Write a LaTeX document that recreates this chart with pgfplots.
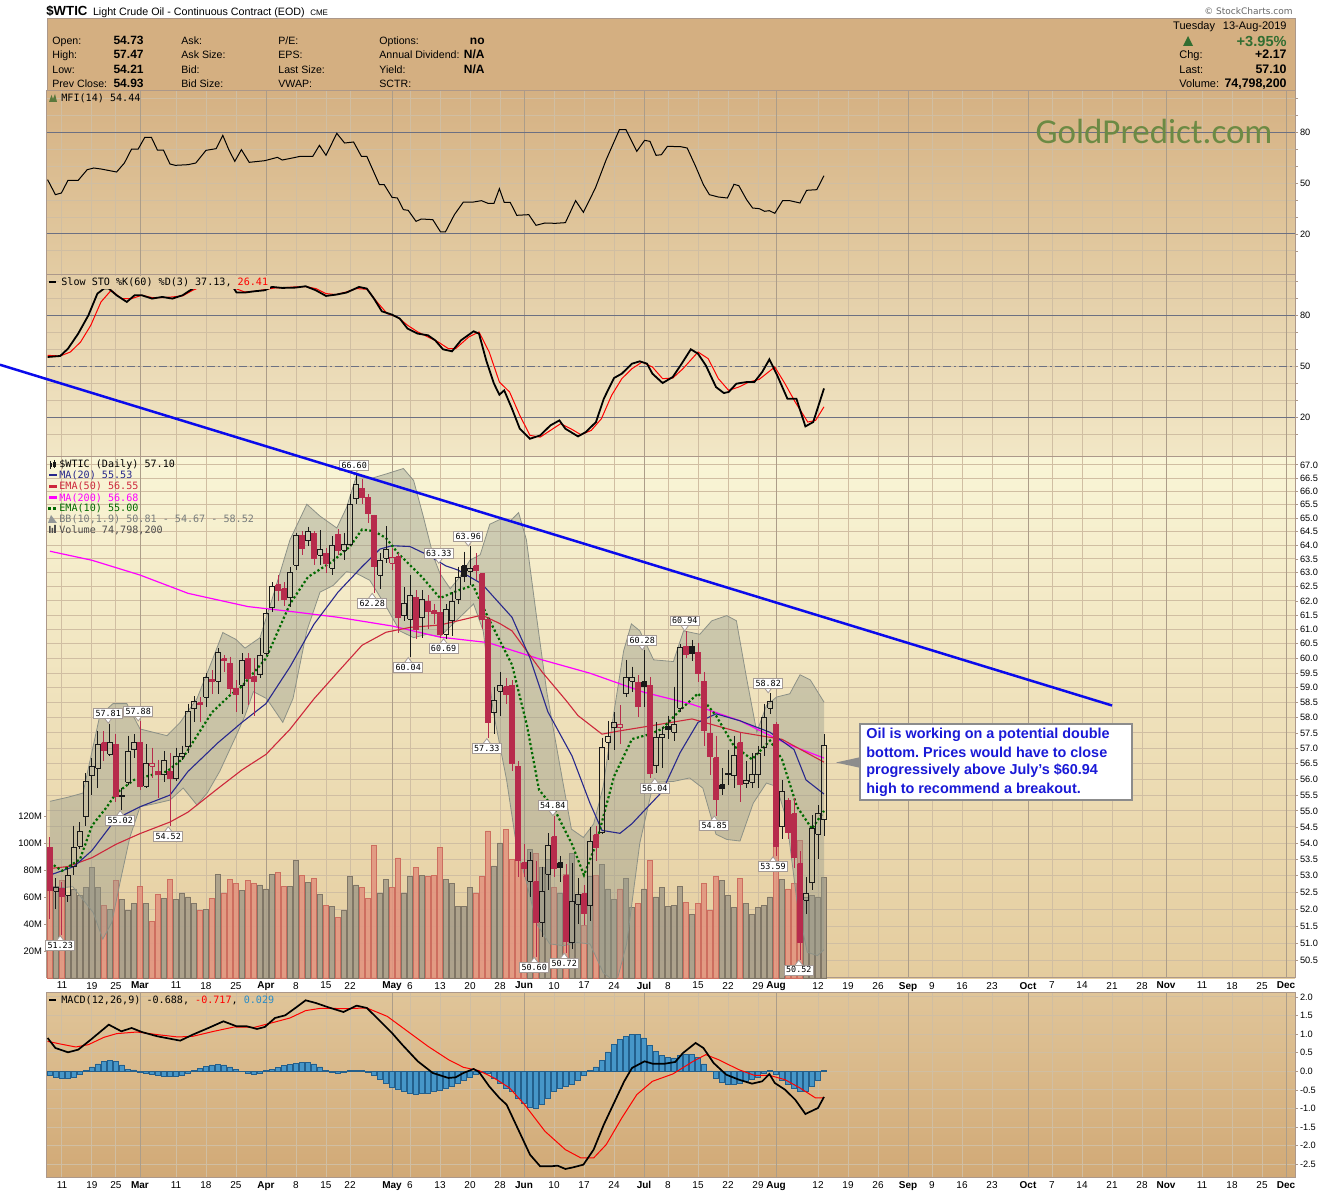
\documentclass[border=0pt]{standalone}
\usepackage{fontspec}
\setmainfont{Liberation Sans}
\newfontfamily\monof{DejaVu Sans Mono}
\newfontfamily\carl{Carlito}
\newfontfamily\dvs{DejaVu Sans}
\usepackage{pgfplots}
\usepackage{pgfplotstable}
\pgfplotsset{compat=1.18}
\newcommand\fs[1]{\fontsize{#1}{#1}\selectfont}
\frenchspacing

\definecolor{hdr}{RGB}{212,175,129}
\definecolor{mfitop}{RGB}{213,177,131}
\definecolor{mfibot}{RGB}{227,204,163}
\definecolor{stotop}{RGB}{227,205,166}
\definecolor{stobot}{RGB}{242,231,198}
\definecolor{prtop}{RGB}{249,245,214}
\definecolor{prmid}{RGB}{243,233,197}
\definecolor{prbot}{RGB}{228,204,158}
\definecolor{mctop}{RGB}{224,197,153}
\definecolor{mcbot}{RGB}{209,169,118}
\definecolor{frame}{RGB}{172,152,138}
\definecolor{gridc}{RGB}{208,190,162}
\definecolor{gridm}{RGB}{172,157,137}
\definecolor{lvl}{RGB}{108,112,130}
\definecolor{candred}{RGB}{183,43,76}
\definecolor{candblk}{RGB}{25,25,25}
\definecolor{volg}{RGB}{168,158,138}
\definecolor{volgd}{RGB}{128,118,102}
\definecolor{volr}{RGB}{226,150,128}
\definecolor{volrd}{RGB}{205,110,95}
\definecolor{bbfill}{RGB}{150,155,140}
\definecolor{bbline}{RGB}{140,145,135}
\definecolor{ma20}{RGB}{40,40,140}
\definecolor{ema50}{RGB}{205,40,60}
\definecolor{ma200}{RGB}{255,0,255}
\definecolor{ema10}{RGB}{0,105,0}
\definecolor{histb}{RGB}{70,150,200}
\definecolor{histd}{RGB}{35,95,140}
\definecolor{gp}{RGB}{108,138,68}
\definecolor{flagb}{RGB}{165,155,150}
\definecolor{trendc}{RGB}{10,10,235}
\definecolor{annob}{RGB}{25,25,215}
\definecolor{gtxt}{RGB}{50,110,50}
\definecolor{mfig}{RGB}{90,120,60}
\definecolor{bbtxt}{RGB}{120,125,125}
\definecolor{mcblue}{RGB}{40,140,200}

\tikzset{flagbox/.style={draw=flagb, fill=white, line width=0.4pt, inner sep=0.9pt, font=\monof\fs{4.2}, text=black}}
\newcommand\flagH[3]{%
  \draw[flagb, fill=white, line width=0.4pt] ([xshift=-1.8pt,yshift=2.6pt]axis cs:#1,#2) -- ([yshift=0.2pt]axis cs:#1,#2) -- ([xshift=1.8pt,yshift=2.6pt]axis cs:#1,#2);
  \node[flagbox, anchor=south] at ([yshift=2.4pt]axis cs:#1,#2) {#3};}
\newcommand\flagL[3]{%
  \draw[flagb, fill=white, line width=0.4pt] ([xshift=-1.8pt,yshift=-2.6pt]axis cs:#1,#2) -- ([yshift=-0.2pt]axis cs:#1,#2) -- ([xshift=1.8pt,yshift=-2.6pt]axis cs:#1,#2);
  \node[flagbox, anchor=north] at ([yshift=-2.4pt]axis cs:#1,#2) {#3};}

\pgfplotsset{
  panel/.style={
    scale only axis, width=624pt, xmin=-2.5, xmax=205.5, anchor=north west,
    axis line style={draw=frame, line width=0.5pt},
    xtick={0,5,9,19,24,29,39,44,48,58,63,68,73,82,87,92,101,106,111,116,126,131,136,145,150,155,165,170,175,180,190,195,200},
    xticklabels={},
    extra x ticks={13,34,55,77,97,119,141,161,184,204},
    extra x tick labels={},
    xmajorgrids=true, ymajorgrids=true,
    grid style={gridc, line width=0.5pt},
    extra x tick style={xmajorgrids=true, grid style={gridm, line width=0.5pt}, xtick style={draw=none}},
    xtick style={draw=none},
    ytick pos=right, yticklabel pos=right,
    yticklabel style={font=\fs{4.6}, inner sep=0.8pt, text=black},
    ytick style={draw=frame, line width=0.4pt},
    tick align=outside, major tick length=1.5pt,
  },
  datelabels/.style={
    xticklabels={11,19,25,11,18,25,8,15,22,6,13,20,28,10,17,24,8,15,22,29,12,19,26,9,16,23,7,14,21,28,11,18,25},
    extra x tick labels={\textbf{Mar},\textbf{Apr},\textbf{May},\textbf{Jun},\textbf{Jul},\textbf{Aug},\textbf{Sep},\textbf{Oct},\textbf{Nov},\textbf{Dec}},
    xticklabel style={font=\fs{5}, inner sep=0pt, yshift=-0.4pt, text=black},
  },
}

\pgfplotstableread{
i o h l c
-2 53.87 54.17 51.71 52.57
-1 52.54 52.92 52.01 52.66
0 52.62 52.80 51.23 52.37
1 52.42 53.28 52.22 53.02
2 53.28 54.54 53.02 53.85
3 53.90 54.65 53.80 54.36
4 54.82 56.20 54.54 55.93
5 56.11 56.68 55.50 56.41
6 56.36 57.57 55.71 57.13
7 57.18 57.57 56.58 56.91
8 56.80 57.81 56.74 57.20
9 57.13 57.46 55.29 55.45
10 55.50 55.71 55.02 55.46
11 55.90 57.41 55.83 56.88
12 56.96 57.46 56.68 57.18
13 57.20 57.88 55.66 55.76
14 55.78 57.13 55.71 56.52
15 56.41 57.02 56.04 56.50
16 56.25 56.63 55.40 56.16
17 56.14 56.91 55.90 56.61
18 56.25 56.86 54.52 56.01
19 56.01 57.02 55.93 56.72
20 56.72 57.09 56.63 56.84
21 57.05 58.47 56.85 58.21
22 58.30 58.72 57.85 58.55
23 58.50 58.69 57.85 58.43
24 58.69 59.49 58.36 59.34
25 59.29 59.60 58.80 59.22
26 59.22 60.35 58.80 60.21
27 59.99 60.12 59.54 59.92
28 59.84 60.06 58.80 58.98
29 58.98 59.26 58.19 58.77
30 59.09 60.18 58.13 59.92
31 60.01 60.18 58.41 59.32
32 59.37 60.01 58.07 59.22
33 59.45 60.71 59.32 60.10
34 60.18 61.71 60.12 61.56
35 61.75 62.66 61.60 62.51
36 62.58 62.91 62.01 62.37
37 62.43 62.66 61.83 62.03
38 62.11 63.22 61.77 63.00
39 63.28 64.46 63.10 64.36
40 64.36 64.52 63.65 63.89
41 64.17 64.68 63.98 64.52
42 64.43 64.52 63.28 63.52
43 63.64 64.55 63.28 63.86
44 63.71 63.89 62.98 63.32
45 63.16 64.32 62.92 63.98
46 64.40 64.58 63.65 63.81
47 63.81 64.46 63.47 64.02
48 64.02 65.89 63.98 65.52
49 65.71 66.60 65.52 66.24
50 66.12 66.47 65.52 65.77
51 65.77 65.89 64.83 65.18
52 65.10 65.13 62.28 63.22
53 62.92 63.71 62.43 63.43
54 63.52 64.70 63.34 63.84
55 63.34 63.89 63.10 63.55
56 63.58 63.71 60.89 61.42
57 61.48 62.49 61.30 61.89
58 61.36 62.92 60.04 62.19
59 62.13 62.37 60.65 61.00
60 61.40 62.37 60.71 62.06
61 61.98 62.19 61.00 61.63
62 61.65 61.89 61.19 61.56
63 61.59 63.33 60.69 60.83
64 60.83 61.89 60.65 61.71
65 61.30 62.31 60.77 61.98
66 62.06 63.22 61.89 62.84
67 63.25 63.77 62.66 62.86
68 63.06 63.96 62.55 63.16
69 63.25 63.71 62.73 63.08
70 62.96 62.98 61.00 61.36
71 61.36 61.42 57.33 57.85
72 58.17 59.04 57.46 58.58
73 58.89 59.54 58.07 59.09
74 59.04 59.32 58.47 58.78
75 59.09 59.26 56.25 56.52
76 56.41 56.58 52.97 53.45
77 53.40 53.96 52.97 53.23
78 52.84 53.73 52.37 53.45
79 52.82 53.45 50.60 51.61
80 51.61 53.28 51.17 52.54
81 53.04 54.30 52.57 53.93
82 54.20 54.84 52.97 53.23
83 53.40 53.60 52.82 53.25
84 53.00 53.35 50.72 51.06
85 51.02 53.40 50.83 52.22
86 52.14 52.92 51.57 52.44
87 52.46 52.72 51.52 51.86
88 52.10 54.49 51.66 54.06
89 54.25 54.54 53.45 53.87
90 54.33 57.35 54.28 57.02
91 57.20 57.90 56.63 57.40
92 57.67 58.19 56.96 57.83
93 57.67 58.41 57.13 57.77
94 58.80 59.95 58.69 59.34
95 59.22 59.72 58.87 59.36
96 59.18 59.43 58.01 58.39
97 59.21 60.28 58.36 59.04
98 59.09 59.37 56.04 56.20
99 56.43 57.85 56.20 57.34
100 57.34 57.68 56.36 57.45
101 57.72 58.07 57.29 57.61
102 57.52 59.04 57.24 57.77
103 58.32 60.48 58.19 60.38
104 60.41 60.94 60.01 60.12
105 60.41 60.64 59.90 60.15
106 60.21 60.53 59.20 59.49
107 59.22 59.54 57.07 57.57
108 57.49 58.25 56.14 56.73
109 56.69 57.41 54.85 55.36
110 55.83 56.36 55.50 55.72
111 56.20 56.96 55.83 56.14
112 56.11 57.41 55.71 56.75
113 57.18 57.52 55.29 55.83
114 55.86 56.58 55.71 55.97
115 55.90 56.85 55.71 56.14
116 56.14 57.07 55.71 56.83
117 57.02 58.47 56.75 58.01
118 58.32 58.82 58.13 58.55
119 57.79 57.85 53.59 53.90
120 54.51 55.98 54.11 55.60
121 55.34 55.39 54.11 54.33
122 54.91 55.39 53.24 53.56
123 53.36 53.75 50.52 51.01
124 52.27 52.97 51.86 52.47
125 52.79 54.86 52.57 54.44
126 54.27 55.18 53.50 54.93
127 54.73 57.47 54.21 57.10
}\ohlc

\pgfplotstableread{
i vg vr
-2 nan 72
-1 68 nan
0 nan 72
1 61 nan
2 66 nan
3 61 nan
4 67 nan
5 82 nan
6 67 nan
7 nan 54
8 51 nan
9 nan 72
10 58 nan
11 50 nan
12 55 nan
13 nan 68
14 55 nan
15 nan 42
16 nan 62
17 59 nan
18 nan 73
19 58 nan
20 63 nan
21 60 nan
22 55 nan
23 nan 50
24 51 nan
25 nan 59
26 77 nan
27 nan 63
28 nan 73
29 nan 70
30 65 nan
31 nan 72
32 nan 70
33 69 nan
34 66 nan
35 77 nan
36 nan 78
37 nan 68
38 68 nan
39 87 nan
40 nan 76
41 71 nan
42 nan 74
43 62 nan
44 nan 54
45 53 nan
46 nan 45
47 50 nan
48 75 nan
49 69 nan
50 nan 67
51 nan 59
52 nan 98
53 63 nan
54 73 nan
55 nan 67
56 nan 89
57 63 nan
58 75 nan
59 nan 82
60 76 nan
61 nan 75
62 nan 76
63 nan 97
64 73 nan
65 70 nan
66 53 nan
67 53 nan
68 67 nan
69 nan 63
70 nan 75
71 nan 109
72 83 nan
73 100 nan
74 nan 110
75 nan 88
76 nan 102
77 nan 83
78 95 nan
79 nan 92
80 82 nan
81 88 nan
82 nan 67
83 63 nan
84 nan 77
85 92 nan
86 62 nan
87 nan 39
88 75 nan
89 nan 76
90 84 nan
91 66 nan
92 58 nan
93 nan 66
94 74 nan
95 52 nan
96 nan 55
97 66 nan
98 nan 87
99 60 nan
100 67 nan
101 53 nan
102 54 nan
103 68 nan
104 nan 56
105 47 nan
106 nan 55
107 nan 70
108 nan 50
109 nan 75
110 72 nan
111 61 nan
112 52 nan
113 nan 74
114 55 nan
115 47 nan
116 52 nan
117 54 nan
118 60 nan
119 nan 102
120 73 nan
121 nan 66
122 nan 70
123 nan 102
124 60 nan
125 61 nan
126 60 nan
127 74.8 nan
}\voltab

\pgfplotstableread{
i v
-2 55.30
1 55.43
3.5 55.56
6.3 58.07
8.5 58.47
10.8 58.47
13 57.63
17.5 57.41
19.7 57.85
22.5 58.64
25.2 60.02
26.8 60.89
29 60.65
30.5 60.35
33 60.71
35.2 62.19
38 64.20
40.8 65.51
43 65.07
45.8 64.63
47.4 65.38
49.1 66.60
51.3 66.47
54.1 66.66
56.9 66.86
58.6 66.41
60.2 65.07
61.9 63.59
63 62.97
64.7 62.43
66.3 62.85
68 63.46
69.7 63.65
71.3 64.77
73 64.95
74.7 64.89
76.1 65.20
77.4 64.20
79.1 61.42
80.8 58.86
83 56.42
84.9 54.43
86.9 54.17
88.6 54.59
90.2 55.77
91.9 58.07
93.6 60.25
94.9 61.19
96.3 60.95
98.6 59.95
101.9 59.89
103.6 60.95
106.3 60.83
108.3 61.30
110.8 61.48
112.4 61.30
114.1 59.32
115.8 57.52
117.4 58.41
119.1 58.69
121.3 58.80
123 59.44
124.7 59.27
127 58.52
}\bbup

\pgfplotstableread{
i v
127 50.81
125.9 50.64
124.2 50.74
122.5 52.22
120.8 54.70
119.1 55.77
117.4 55.88
115.2 55.24
113 54.06
110.8 54.11
109 54.27
106.8 55.72
104.6 56.04
101.9 55.93
98.6 55.90
96.3 54.00
94.1 50.98
92.4 49.86
90.2 50.15
88 50.98
85.8 51.02
83.6 50.93
81.3 50.98
79.1 51.57
77.4 52.82
75.8 53.85
74.1 55.98
71.9 58.18
70.2 60.95
68.6 61.89
66.3 61.42
63 60.75
60.8 60.83
58.6 60.71
56.3 60.95
54.1 61.77
51.3 62.73
49.1 62.98
47.4 63.04
45.2 62.55
43 62.31
40.8 60.95
38.5 58.64
36.8 57.85
34.1 58.64
31.9 58.87
30.5 58.07
29 57.40
26.3 56.26
24.2 55.56
22.5 55.18
20.2 55.72
18 55.34
15.8 55.24
13 55.13
11.3 54.17
9.7 52.82
8.3 51.61
6.8 51.12
5.2 51.90
1.8 52.67
-2 52.62
}\bblo

% band area: upper band forward, then lower band backward
\pgfplotstableread{
i v
-2 55.30
1 55.43
3.5 55.56
6.3 58.07
8.5 58.47
10.8 58.47
13 57.63
17.5 57.41
19.7 57.85
22.5 58.64
25.2 60.02
26.8 60.89
29 60.65
30.5 60.35
33 60.71
35.2 62.19
38 64.20
40.8 65.51
43 65.07
45.8 64.63
47.4 65.38
49.1 66.60
51.3 66.47
54.1 66.66
56.9 66.86
58.6 66.41
60.2 65.07
61.9 63.59
63 62.97
64.7 62.43
66.3 62.85
68 63.46
69.7 63.65
71.3 64.77
73 64.95
74.7 64.89
76.1 65.20
77.4 64.20
79.1 61.42
80.8 58.86
83 56.42
84.9 54.43
86.9 54.17
88.6 54.59
90.2 55.77
91.9 58.07
93.6 60.25
94.9 61.19
96.3 60.95
98.6 59.95
101.9 59.89
103.6 60.95
106.3 60.83
108.3 61.30
110.8 61.48
112.4 61.30
114.1 59.32
115.8 57.52
117.4 58.41
119.1 58.69
121.3 58.80
123 59.44
124.7 59.27
127 58.52
127 50.81
125.9 50.64
124.2 50.74
122.5 52.22
120.8 54.70
119.1 55.77
117.4 55.88
115.2 55.24
113 54.06
110.8 54.11
109 54.27
106.8 55.72
104.6 56.04
101.9 55.93
98.6 55.90
96.3 54.00
94.1 50.98
92.4 49.86
90.2 50.15
88 50.98
85.8 51.02
83.6 50.93
81.3 50.98
79.1 51.57
77.4 52.82
75.8 53.85
74.1 55.98
71.9 58.18
70.2 60.95
68.6 61.89
66.3 61.42
63 60.75
60.8 60.83
58.6 60.71
56.3 60.95
54.1 61.77
51.3 62.73
49.1 62.98
47.4 63.04
45.2 62.55
43 62.31
40.8 60.95
38.5 58.64
36.8 57.85
34.1 58.64
31.9 58.87
30.5 58.07
29 57.40
26.3 56.26
24.2 55.56
22.5 55.18
20.2 55.72
18 55.34
15.8 55.24
13 55.13
11.3 54.17
9.7 52.82
8.3 51.61
6.8 51.12
5.2 51.90
1.8 52.67
-2 52.62
}\bbarea

\begin{document}
\begin{tikzpicture}
\begin{scope}[x=0.5pt,y=-0.5pt]
\fill[white] (0,0) rectangle (1340,1192);
\fill[hdr] (47,19) rectangle (1295,91);
\shade[top color=mfitop,bottom color=mfibot] (47,91) rectangle (1295,275);
\shade[top color=stotop,bottom color=stobot] (47,275) rectangle (1295,457);
\shade[top color=prtop,middle color=prmid,bottom color=prbot] (47,457) rectangle (1295,978);
\shade[top color=mctop,bottom color=mcbot] (47,992) rectangle (1295,1177);
\draw[frame,line width=0.5pt] (47,19) rectangle (1295,91);
\end{scope}

% ---------------- MFI ----------------
\begin{axis}[panel, at={(23.5pt,-45.5pt)}, height=92pt, ymin=-4.2, ymax=104.4,
  ytick={10,30,40,50,60,70,90,100}, yticklabels={,,,50,,,,},
  extra y ticks={20,80}, extra y tick labels={20,80},
  extra y tick style={grid style={lvl,line width=0.5pt}}]
\addplot[black, line width=0.5pt] table {
i v
-2.4 52.06
-1.1 43.21
-0.1 44.19
1.0 51.67
2.7 51.67
4.2 57.96
5.3 58.95
6.5 58.36
9.1 56.59
10.4 61.90
11.6 70.16
12.7 70.16
13.8 77.04
14.9 77.04
15.9 69.57
16.9 69.57
18.0 61.31
18.9 60.52
21.0 60.91
22.3 61.90
24.0 69.37
25.7 70.36
26.8 78.22
27.8 69.77
28.8 62.88
29.9 69.77
31.2 62.29
33.8 63.27
35.9 65.24
36.7 63.67
38.4 64.85
39.7 65.83
41.8 65.83
42.9 72.32
44.0 66.42
45.8 79.40
47.1 73.70
48.6 74.29
49.9 65.83
50.8 65.83
52.9 49.11
53.7 49.11
55.0 41.64
55.9 41.24
56.9 34.36
57.7 33.97
59.0 27.47
59.9 28.85
61.8 28.46
63.1 21.18
63.9 21.18
65.4 31.41
66.9 38.88
68.6 38.88
69.9 39.67
71.0 38.10
72.0 38.10
72.9 46.75
73.7 38.69
74.7 38.69
75.8 31.02
77.8 31.41
79.0 25.11
80.5 26.49
82.2 26.29
83.9 26.69
85.6 39.67
86.9 32.79
88.9 47.15
90.7 63.86
92.9 81.57
94.0 81.57
95.8 68.78
97.1 75.27
98.0 74.68
99.0 66.42
99.9 66.81
100.9 71.73
103.1 71.54
104.2 70.75
105.6 59.93
106.9 49.11
107.9 43.21
109.4 41.83
110.9 41.24
112.0 49.31
112.8 48.52
114.1 40.26
115.1 35.34
116.2 34.95
117.1 33.38
117.9 33.77
118.8 32.20
120.1 39.67
121.3 39.67
123.0 38.29
124.1 45.77
125.8 46.16
127.0 54.44
};
\end{axis}

% ---------------- Slow STO ----------------
\begin{axis}[panel, at={(23.5pt,-137.5pt)}, height=91pt, ymin=-3.0, ymax=103.6,
  ytick={10,30,40,50,60,70,90,100}, yticklabels={,,,50,,,,},
  extra y ticks={20,80}, extra y tick labels={20,80},
  extra y tick style={grid style={lvl,line width=0.5pt}}]
\draw[lvl, line width=0.5pt, dash pattern=on 4pt off 1.5pt on 1pt off 1.5pt] (axis cs:-2.5,50) -- (axis cs:205.5,50);
\addplot[red, line width=0.5pt] table {
i v
-2.4 56.55
-0.3 56.16
1.4 58.50
3.1 64.36
4.8 74.14
6.5 87.82
8.2 94.66
9.9 89.77
11.6 89.77
13.3 91.73
15.0 90.36
16.7 90.36
18.4 90.75
20.1 91.34
21.8 94.66
23.5 97.20
26.1 99.15
28.7 96.03
30.4 93.68
32.1 94.07
33.8 95.05
35.5 96.03
37.2 96.22
38.9 96.61
40.6 96.81
42.3 95.64
44.0 92.70
45.7 92.12
47.4 93.68
49.1 95.64
50.8 95.25
52.5 87.82
54.2 80.98
55.9 79.02
57.6 74.14
59.3 70.23
61.0 67.30
62.7 64.37
64.4 60.46
65.6 60.46
67.8 67.30
69.5 70.23
71.2 58.50
72.9 40.91
74.6 35.05
76.3 21.37
78.0 9.64
79.7 8.66
81.4 12.57
83.1 16.48
84.8 13.55
86.5 10.03
88.2 12.57
89.9 19.41
91.6 33.09
93.3 42.87
95.0 48.73
96.7 52.64
98.4 49.71
100.1 42.87
101.8 43.26
103.5 48.73
106.0 58.50
107.7 54.59
109.4 42.87
111.1 36.03
112.8 37.98
114.5 40.91
116.2 42.48
118.8 49.71
120.5 39.93
122.2 29.19
124.3 17.46
125.6 18.44
127.0 26.41
};
\addplot[black, line width=0.9pt] table {
i v
-2.4 55.57
-0.3 56.16
1.0 60.46
2.7 69.25
4.4 80.00
5.9 92.70
7.0 95.64
7.8 95.64
9.1 91.73
10.8 87.82
12.1 91.73
13.3 91.73
15.0 89.77
16.7 90.75
18.4 89.77
20.1 91.73
21.8 95.64
23.1 97.59
25.3 99.30
28.5 96.61
29.1 93.29
30.4 93.29
32.1 94.07
33.8 94.66
35.0 96.61
36.7 96.03
38.9 96.22
40.6 97.00
42.3 94.66
44.0 91.34
45.7 92.12
47.4 93.29
49.5 96.61
50.8 95.64
52.0 89.77
53.3 82.35
55.0 80.39
56.3 78.05
57.6 72.18
59.3 69.25
61.0 68.27
62.2 65.34
63.5 60.07
65.0 58.89
66.5 65.34
68.6 70.62
69.5 69.25
70.7 53.62
72.0 39.93
72.9 33.49
73.7 36.03
75.0 25.28
76.3 13.55
78.0 7.69
79.7 9.64
81.4 15.50
82.9 18.44
83.9 13.55
86.0 9.06
87.3 11.60
89.0 17.46
90.3 31.14
92.0 43.26
93.3 45.80
95.0 51.66
96.3 53.03
97.5 51.66
98.4 45.80
100.1 40.33
101.8 43.84
103.1 50.68
104.8 60.07
106.0 57.52
107.3 50.68
109.0 37.98
110.3 34.46
111.1 35.05
112.4 39.93
114.1 40.91
115.4 40.91
116.7 46.77
117.9 54.20
119.2 44.82
120.9 31.14
122.4 31.14
123.9 14.92
125.2 17.46
127.0 37.13
};
\end{axis}

% ---------------- MACD ----------------
\begin{axis}[panel, datelabels, at={(23.5pt,-496pt)}, height=92.5pt, ymin=-2.841, ymax=2.132,
  ytick={-2.5,-2,-1.5,-1,-0.5,0,0.5,1,1.5,2},
  yticklabels={-2.5,-2.0,-1.5,-1.0,-0.5,0.0,0.5,1.0,1.5,2.0}]
\addplot[ybar, bar width=2.3pt, bar shift=0pt, fill=histb, draw=histd, line width=0.3pt] table {
i v
-2 -0.10
-1 -0.16
0 -0.20
1 -0.20
2 -0.15
3 -0.07
4 0.03
5 0.12
6 0.20
7 0.26
8 0.30
9 0.27
10 0.17
11 0.06
12 0.04
13 -0.02
14 -0.06
15 -0.09
16 -0.11
17 -0.13
18 -0.14
19 -0.14
20 -0.12
21 -0.06
22 0.02
23 0.08
24 0.13
25 0.17
26 0.19
27 0.17
28 0.12
29 0.06
30 -0.01
31 -0.05
32 -0.07
33 -0.04
34 0.02
35 0.06
36 0.11
37 0.15
38 0.19
39 0.22
40 0.25
41 0.24
42 0.20
43 0.12
44 0.02
45 -0.02
46 -0.04
47 -0.03
48 0.02
49 0.03
50 0.02
51 -0.02
52 -0.10
53 -0.22
54 -0.33
55 -0.42
56 -0.49
57 -0.55
58 -0.59
59 -0.61
60 -0.60
61 -0.58
62 -0.55
63 -0.51
64 -0.46
65 -0.40
66 -0.33
67 -0.25
68 -0.17
69 -0.08
70 -0.02
71 -0.06
72 -0.18
73 -0.33
74 -0.47
75 -0.55
76 -0.72
77 -0.85
78 -0.97
79 -1.00
80 -0.90
81 -0.72
82 -0.54
83 -0.45
84 -0.40
85 -0.34
86 -0.25
87 -0.12
88 0.03
89 0.12
90 0.30
91 0.52
92 0.72
93 0.85
94 0.93
95 0.99
96 1.00
97 0.90
98 0.70
99 0.53
100 0.43
101 0.38
102 0.36
103 0.42
104 0.45
105 0.45
106 0.37
107 0.20
108 0.01
109 -0.20
110 -0.30
111 -0.36
112 -0.36
113 -0.32
114 -0.27
115 -0.22
116 -0.15
117 -0.05
118 0.03
119 -0.09
120 -0.25
121 -0.36
122 -0.45
123 -0.55
124 -0.54
125 -0.40
126 -0.25
127 0.029
};
\addplot[red, line width=0.5pt] table {
i v
-2.4 0.806
-0.3 0.735
2.3 0.654
4.4 0.717
7.0 0.914
9.1 1.013
12.5 1.057
15.9 0.986
19.3 0.923
21.8 0.941
25.3 1.075
28.7 1.192
32.1 1.183
35.5 1.326
38.0 1.434
40.6 1.631
43.1 1.694
47.4 1.685
50.8 1.703
54.2 1.478
57.6 1.075
61.0 0.672
64.4 0.314
66.9 0.108
69.5 0.018
72.0 -0.179
74.6 -0.448
77.1 -0.896
80.5 -1.613
83.9 -2.106
86.5 -2.330
88.6 -2.330
90.7 -1.971
93.3 -1.254
95.8 -0.627
98.4 -0.269
101.8 -0.072
105.2 0.269
107.3 0.448
109.4 0.314
112.8 0.045
115.4 -0.108
117.9 -0.108
120.5 -0.224
123.0 -0.448
125.6 -0.717
127.0 -0.717
};
\addplot[black, line width=0.85pt] table {
i v
-2.4 0.896
-1.1 0.627
1.0 0.511
2.7 0.582
4.8 0.851
7.8 1.254
9.9 1.075
11.6 1.165
13.3 1.057
15.9 0.941
19.7 0.824
21.8 0.986
24.4 1.165
26.9 1.344
29.1 1.210
30.8 1.210
32.5 1.138
33.8 1.192
35.5 1.434
37.2 1.505
38.9 1.703
40.6 1.909
42.3 1.837
44.4 1.720
46.9 1.595
49.1 1.765
50.8 1.703
52.5 1.434
55.0 1.030
56.7 0.717
59.3 0.269
61.8 -0.045
64.4 -0.179
65.6 -0.161
66.9 -0.045
68.6 0.063
69.5 -0.018
71.2 -0.403
72.9 -0.717
74.1 -0.896
75.4 -1.344
76.7 -1.792
78.0 -2.240
79.7 -2.554
81.4 -2.554
82.6 -2.536
83.9 -2.625
85.2 -2.581
86.9 -2.509
88.6 -2.106
90.3 -1.434
92.0 -0.851
93.7 -0.269
95.0 0.090
97.1 0.269
98.4 0.206
100.5 0.206
102.2 0.251
103.5 0.493
105.6 0.762
106.9 0.627
108.6 0.224
110.7 -0.090
112.8 -0.224
115.0 -0.332
116.7 -0.269
117.9 -0.072
118.8 -0.314
120.5 -0.493
122.2 -0.762
123.9 -1.147
126.0 -0.986
127.0 -0.688
};
\end{axis}

% ---------------- Price panel: grid + labels ----------------
\begin{axis}[panel, datelabels, at={(23.5pt,-228.5pt)}, height=260.5pt, ymode=log, ymin=50, ymax=67.31,
  minor y tick num=0,
  ytick={50.5,51,51.5,52,52.5,53,53.5,54,54.5,55,55.5,56,56.5,57,57.5,58,58.5,59,59.5,60,60.5,61,61.5,62,62.5,63,63.5,64,64.5,65,65.5,66,66.5,67},
  yticklabels={50.5,51.0,51.5,52.0,52.5,53.0,53.5,54.0,54.5,55.0,55.5,56.0,56.5,57.0,57.5,58.0,58.5,59.0,59.5,60.0,60.5,61.0,61.5,62.0,62.5,63.0,63.5,64.0,64.5,65.0,65.5,66.0,66.5,67.0}]
\end{axis}

% ---------------- Volume ----------------
\begin{axis}[scale only axis, width=624pt, height=260.5pt, at={(23.5pt,-228.5pt)}, anchor=north west,
  xmin=-2.5, xmax=205.5, ymin=0, ymax=385.9,
  axis line style={draw=none}, xtick=\empty,
  ytick={20,40,60,80,100,120}, yticklabels={20M,40M,60M,80M,100M,120M},
  ytick pos=left, yticklabel pos=left, tick align=outside, major tick length=1.5pt,
  ytick style={draw=frame, line width=0.4pt},
  yticklabel style={font=\fs{4.7}, inner sep=0.8pt, text=black}]
\addplot[ybar, bar width=2.4pt, bar shift=0pt, fill=volg, draw=volgd, line width=0.3pt, fill opacity=0.9] table[x=i,y=vg]{\voltab};
\addplot[ybar, bar width=2.4pt, bar shift=0pt, fill=volr, draw=volrd, line width=0.3pt, fill opacity=0.9] table[x=i,y=vr]{\voltab};
\end{axis}

% ---------------- Price data ----------------
\begin{axis}[scale only axis, width=624pt, height=260.5pt, at={(23.5pt,-228.5pt)}, anchor=north west,
  xmin=-2.5, xmax=205.5, ymode=log, ymin=50, ymax=67.31, hide axis, clip mode=individual]
\addplot[fill=bbfill, fill opacity=0.42, draw=none] table[x=i,y=v]{\bbarea};
\addplot[bbline, line width=0.4pt] table[x=i,y=v]{\bbup};
\addplot[bbline, line width=0.4pt] table[x=i,y=v]{\bblo};
\addplot[ma200, line width=0.6pt] table {
i v
-2 63.78
5 63.45
13 62.92
21 62.27
26 62.03
31 61.80
38 61.63
46 61.42
55 61.12
63 60.73
71 60.54
80 59.95
88 59.49
97 58.85
105 58.45
113 57.90
121 57.13
127 56.68
};
\addplot[ema50, line width=0.55pt] table {
i v
-2 53.22
1 53.28
5 53.55
9 53.96
13 54.29
18 54.65
21 54.96
26 55.71
30 56.30
34 56.80
38 57.62
42 58.63
46 59.54
50 60.45
54 60.90
58 61.07
63 61.15
66 61.30
70 61.50
73 61.20
75 60.95
80 59.54
84 58.58
86 58.07
90 57.46
93 57.57
97 57.70
105 57.96
113 57.52
120 57.29
127 56.55
};
\addplot[ma20, line width=0.55pt] table {
i v
-2 53.02
2 53.28
5 53.77
9 54.75
13 55.13
18 55.50
21 56.25
26 57.18
30 57.85
34 58.47
38 59.71
42 61.18
46 62.31
50 63.22
53 63.86
55 63.98
58 63.95
61 63.64
64 63.25
66 63.10
70 62.60
75 61.42
78 60.01
81 58.19
85 56.75
88 55.24
90 54.39
93 54.30
95 54.60
97 55.00
100 55.60
103 56.85
106 57.85
109 58.13
113 57.90
118 57.52
122 56.96
124 55.98
127 55.53
};
\addplot[ema10, line width=1.1pt, dash pattern=on 1.1pt off 1.2pt] table {
i v
-2 53.40
0 53.15
3 53.50
5 54.54
7.5 55.13
9 55.55
12 55.98
15 56.14
17.5 56.25
20 56.64
22.5 57.41
25 58.18
28 58.75
30 59.05
34 60.00
38 61.89
41 62.85
45 63.40
48 63.95
50 64.58
52 64.52
54 64.26
56 63.71
60 62.85
63 62.10
66 62.37
68.5 62.55
71 61.42
75 59.78
77.5 57.74
79.5 55.67
82 55.08
85 53.96
87 53.02
89 53.96
92 56.09
95 57.30
98 57.46
100 57.63
103 58.25
106 58.81
109 58.07
112 57.07
115 56.64
118 57.25
120 56.64
122.5 55.13
125 54.44
127 55.00
};
% candles
\def\prevc{1000}
\pgfplotsforeachungrouped \rr in {0,...,129}{%
  \pgfplotstablegetelem{\rr}{i}\of\ohlc\let\ci\pgfplotsretval
  \pgfplotstablegetelem{\rr}{o}\of\ohlc\let\co\pgfplotsretval
  \pgfplotstablegetelem{\rr}{h}\of\ohlc\let\chh\pgfplotsretval
  \pgfplotstablegetelem{\rr}{l}\of\ohlc\let\cl\pgfplotsretval
  \pgfplotstablegetelem{\rr}{c}\of\ohlc\let\cc\pgfplotsretval
  \pgfmathsetmacro\ctop{max(\co,\cc)}%
  \pgfmathsetmacro\cbot{min(\co,\cc)}%
  \pgfmathsetmacro\cxl{\ci-0.37}%
  \pgfmathsetmacro\cxr{\ci+0.37}%
  \pgfmathtruncatemacro\isred{\cc<\prevc ? 1 : 0}%
  \pgfmathtruncatemacro\isfilled{\cc<\co ? 1 : 0}%
  \ifnum\isred=1 \def\ccol{candred}\else\def\ccol{candblk}\fi
  \ifnum\isfilled=1 \edef\cfill{fill=\ccol}\else\def\cfill{fill=none}\fi
  \edef\doplot{%
    \noexpand\addplot[draw=\ccol, line width=0.5pt, mark=none, forget plot, unbounded coords=jump] coordinates {(\ci,\chh) (\ci,\ctop) (\ci,nan) (\ci,\cbot) (\ci,\cl)};
    \noexpand\addplot[draw=\ccol, \cfill, line width=0.5pt, mark=none, forget plot] coordinates {(\cxl,\co) (\cxr,\co) (\cxr,\cc) (\cxl,\cc) (\cxl,\co)};
  }%
  \doplot
  \let\prevc\cc
}
% flags
\flagL{-0.3}{51.23}{51.23}
\flagH{7.7}{57.81}{57.81}
\flagH{12.7}{57.88}{57.88}
\flagL{9.7}{55.02}{55.02}
\flagL{17.7}{54.52}{54.52}
\flagH{48.7}{66.60}{66.60}
\flagL{51.7}{62.28}{62.28}
\flagH{62.8}{63.33}{63.33}
\flagL{57.7}{60.04}{60.04}
\flagL{63.6}{60.69}{60.69}
\flagH{67.7}{63.96}{63.96}
\flagL{70.8}{57.33}{57.33}
\flagH{81.8}{54.84}{54.84}
\flagL{78.7}{50.60}{50.60}
\flagL{83.7}{50.72}{50.72}
\flagH{96.7}{60.28}{60.28}
\flagL{98.8}{56.04}{56.04}
\flagH{103.8}{60.94}{60.94}
\flagL{108.7}{54.85}{54.85}
\flagH{117.7}{58.82}{58.82}
\flagL{118.5}{53.59}{53.59}
\flagL{122.8}{50.52}{50.52}
% trend line
\draw[trendc, line width=1.25pt] (axis cs:-10.333,70.94) -- (axis cs:175,58.41);
\end{axis}

% ---------------- texts ----------------
\begin{scope}[x=0.5pt,y=-0.5pt]
\node[anchor=base west, inner sep=0] at (46,16) {{\bfseries\fs{6.6}\$WTIC} {\fs{5.35}Light Crude Oil - Continuous Contract (EOD)} {\fs{4}CME}};
\node[anchor=base east, inner sep=0, text=black!60] at (1293,14.5) {\dvs\fs{4.5}© StockCharts.com};
\foreach \yy/\lab/\val in {45/Open:/54.73, 59/High:/57.47, 73.5/Low:/54.21, 88/Prev Close:/54.93}{
  \node[anchor=base west, inner sep=0] at (52,\yy) {\fs{5.3}\lab};
  \node[anchor=base east, inner sep=0] at (144,\yy) {\bfseries\fs{6}\val};
}
\foreach \yy/\lab in {45/Ask:, 59/Ask Size:, 73.5/Bid:, 88/Bid Size:}{
  \node[anchor=base west, inner sep=0] at (181,\yy) {\fs{5.3}\lab};}
\foreach \yy/\lab in {45/P{/}E:, 59/EPS:, 73.5/Last Size:, 88/VWAP:}{
  \node[anchor=base west, inner sep=0] at (278,\yy) {\fs{5.3}\lab};}
\foreach \yy/\lab in {45/Options:, 59/Annual Dividend:, 73.5/Yield:, 88/SCTR:}{
  \node[anchor=base west, inner sep=0] at (379,\yy) {\fs{5.3}\lab};}
\node[anchor=base east, inner sep=0] at (485,45) {\bfseries\fs{6}no};
\node[anchor=base east, inner sep=0] at (485,59) {\bfseries\fs{6}N/A};
\node[anchor=base east, inner sep=0] at (485,73.5) {\bfseries\fs{6}N/A};
\node[anchor=base east, inner sep=0] at (1287,30) {\fs{5.5}Tuesday\hspace{4pt}13-Aug-2019};
\fill[gtxt] (1183,46) -- (1188,36) -- (1193,46) -- cycle;
\node[anchor=base east, inner sep=0, text=gtxt] at (1287,46.5) {\bfseries\fs{7.3}+3.95\%};
\node[anchor=base west, inner sep=0] at (1179,59) {\fs{5.5}Chg:};
\node[anchor=base east, inner sep=0] at (1287,59) {\bfseries\fs{6.2}+2.17};
\node[anchor=base west, inner sep=0] at (1179,73.5) {\fs{5.5}Last:};
\node[anchor=base east, inner sep=0] at (1287,73.5) {\bfseries\fs{6.2}57.10};
\node[anchor=base west, inner sep=0] at (1179,88) {\fs{5.5}Volume:};
\node[anchor=base east, inner sep=0] at (1287,88) {\bfseries\fs{6.2}74,798,200};

\node[anchor=base, inner sep=0, text=gp] at (1154,144) {\carl\fs{17.5}GoldPredict.com};

\fill[mfig] (49,102) -- (51.5,95) -- (53,99) -- (55,94) -- (57,102) -- cycle;
\node[anchor=base west, inner sep=0] at (61,101.7) {\monof\fs{5.05}MFI(14) 54.44};
\node[anchor=base west, inner sep=1pt, fill=stotop] at (59,285.5) {\monof\fs{5.05}Slow STO \%K(60) \%D(3) 37.13, \textcolor{red}{26.41}};
\draw[black, line width=1.3pt] (49,282) -- (56,282);
\draw[black, line width=1.3pt] (49,1000) -- (56,1000);
\node[anchor=base west, inner sep=0] at (61,1003.7) {\monof\fs{5.05}MACD(12,26,9) -0.688, \textcolor{red}{-0.717}, \textcolor{mcblue}{0.029}};

\draw[candblk, line width=0.5pt] (50.5,461) -- (50.5,469); \fill[candblk] (49.5,463) rectangle (51.5,467);
\draw[candblk, line width=0.5pt] (54.5,460) -- (54.5,468); \draw[candblk, line width=0.4pt] (53.5,462) rectangle (55.5,466);
\node[anchor=base west, inner sep=0] at (59,468) {\monof\fs{5.05}\$WTIC (Daily) 57.10};
\draw[ma20, line width=1.2pt] (49,475.3) -- (57,475.3);
\node[anchor=base west, inner sep=0, text=ma20] at (59,479) {\monof\fs{5.05}MA(20) 55.53};
\draw[ema50, line width=1.2pt] (49,486.4) -- (57,486.4);
\node[anchor=base west, inner sep=0, text=ema50] at (59,490) {\monof\fs{5.05}EMA(50) 56.55};
\draw[ma200, line width=1.2pt] (49,497.6) -- (57,497.6);
\node[anchor=base west, inner sep=0, text=ma200] at (59,501.3) {\monof\fs{5.05}MA(200) 56.68};
\draw[ema10, line width=1.3pt, dash pattern=on 1.3pt off 1.3pt] (48,508.4) -- (58,508.4);
\node[anchor=base west, inner sep=0, text=ema10] at (59,512) {\monof\fs{5.05}EMA(10) 55.00};
\fill[bbtxt!80] (48,523) -- (51,515) -- (54,519) -- (57,523) -- cycle;
\node[anchor=base west, inner sep=0, text=bbtxt] at (59,522.9) {\monof\fs{5.05}BB(10,1.9) 50.81 - 54.67 - 58.52};
\fill[black!70] (49,526) rectangle (50.6,533) (51.6,528) rectangle (53.2,533) (54.2,525) rectangle (55.8,533);
\node[anchor=base west, inner sep=0, text=black!70] at (59,533.1) {\monof\fs{5.05}Volume 74,798,200};

\fill[black!45] (861,757) -- (836,762.5) -- (861,768) -- cycle;
\draw[black!45, fill=white, line width=0.6pt] (860,724) rectangle (1132,800);
\foreach \yy/\txt in {739/Oil is working on a potential double, 757/bottom. Prices would have to close, 775/progressively above July's \$60.94, 793/high to recommend a breakout.}{
  \node[anchor=base west, inner sep=0, text=annob] at (866,\yy) {\bfseries\fs{7.2}\txt};}

\pgfresetboundingbox
\useasboundingbox (0,0) rectangle (1340,1192);
\end{scope}
\end{tikzpicture}
\end{document}
